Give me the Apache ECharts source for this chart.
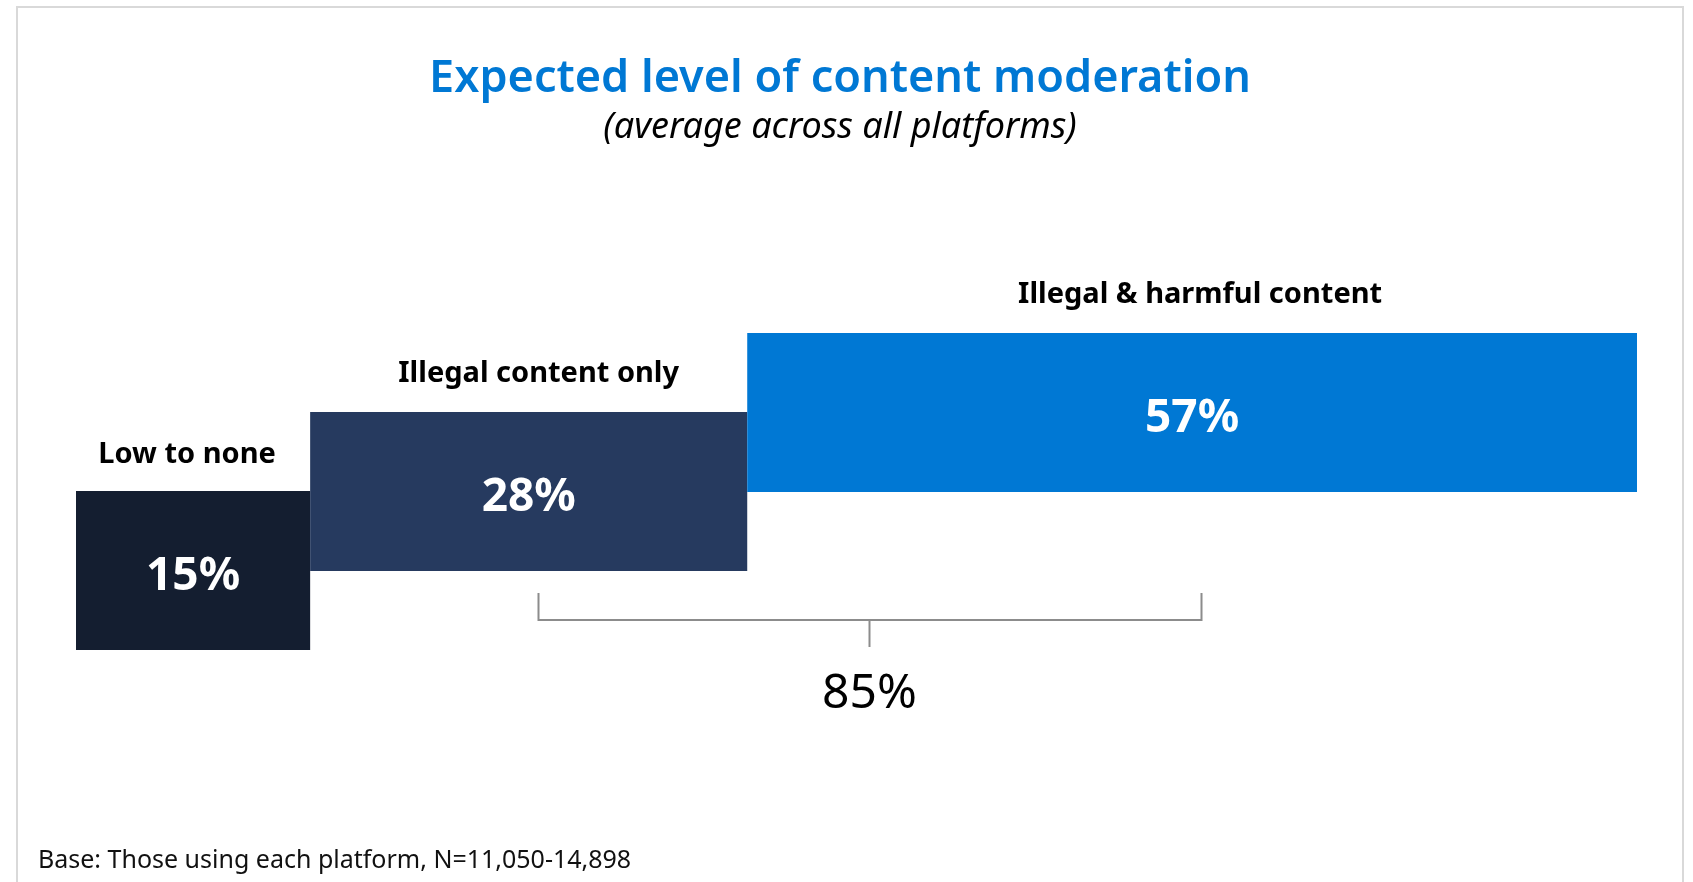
<!DOCTYPE html>
<html>
<head>
<meta charset="utf-8">
<title>Expected level of content moderation</title>
<script src="https://cdn.jsdelivr.net/npm/echarts@6/dist/echarts.min.js"></script>
<style>
  html, body { margin: 0; padding: 0; background: #ffffff; }
  #chart { width: 1693px; height: 882px; }
</style>
</head>
<body>
<div id="chart"></div>
<script>
// Moderation levels, lowest first (bottom step of the staircase)
const categories = ['Low to none', 'Illegal content only', 'Illegal & harmful content'];
const shares = [15, 28, 57];
const barColors = ['#141e30', '#263a5f', '#0078d4'];
// Levels grouped under the bracket (indices into categories)
const bracketGroup = [1, 2];

const titleText = 'Expected level of content moderation';
const subtitleText = '(average across all platforms)';
const footnoteText = 'Base: Those using each platform, N=11,050-14,898';

const FONT = '"Noto Sans", "Open Sans", sans-serif';
const BAR_THICKNESS = 159;
const BRACKET_SHIFT = 9;
// Horizontal nudge of each level name relative to its step centre (px)
const NAME_NUDGE = [-6, 10, 8];

// Running start of each step: each level begins where the previous one ends
const starts = [];
shares.reduce((acc, v, i) => { starts[i] = acc; return acc + v; }, 0);

const chart = echarts.init(document.getElementById('chart'), null, { renderer: 'canvas' });

const option = {
  animation: false,
  backgroundColor: '#ffffff',
  grid: { left: 76, right: 56, top: 373, bottom: 272, containLabel: false },
  xAxis: { type: 'value', min: 0, max: 100, show: false },
  yAxis: { type: 'category', data: categories, show: false },
  series: [
    {
      name: 'offset',
      type: 'bar',
      stack: 'steps',
      barWidth: BAR_THICKNESS,
      clip: false,
      silent: true,
      itemStyle: { color: 'transparent' },
      data: starts
    },
    {
      name: 'share',
      type: 'bar',
      stack: 'steps',
      barWidth: BAR_THICKNESS,
      clip: false,
      data: shares.map((v, i) => ({ value: v, itemStyle: { color: barColors[i] } })),
      label: {
        show: true,
        position: 'inside',
        formatter: p => p.value + '%',
        color: '#ffffff',
        fontFamily: FONT,
        fontWeight: 'bold',
        fontSize: 46,
        offset: [0, 6]
      }
    },
    {
      name: 'names',
      type: 'scatter',
      symbolSize: 0,
      clip: false,
      silent: true,
      itemStyle: { opacity: 1 },
      data: shares.map((v, i) => ({
        value: [starts[i] + v / 2, i],
        label: { offset: [NAME_NUDGE[i], i === 0 ? -116 : -118] }
      })),
      label: {
        show: true,
        position: 'inside',
        formatter: p => categories[p.dataIndex],
        color: '#000000',
        opacity: 1,
        fontFamily: FONT,
        fontWeight: 'bold',
        fontSize: 29
      }
    }
  ]
};
chart.setOption(option);

// Bracket spanning the grouped levels, with their combined share
function drawOverlay() {
  const first = bracketGroup[0];
  const last = bracketGroup[bracketGroup.length - 1];
  const pA = chart.convertToPixel({ seriesIndex: 1 }, [starts[first] + shares[first] / 2, first]);
  const pB = chart.convertToPixel({ seriesIndex: 1 }, [starts[last] + shares[last] / 2, last]);
  const pFirst = chart.convertToPixel({ seriesIndex: 1 }, [0, first]);
  const barBottom = pFirst[1] + BAR_THICKNESS / 2;
  const y0 = barBottom + 22;
  const y1 = barBottom + 49;
  const y2 = barBottom + 76;
  const xa = Math.round(pA[0] + BRACKET_SHIFT) + 0.5;
  const xb = Math.round(pB[0] + BRACKET_SHIFT) + 0.5;
  const xm = Math.round((pA[0] + pB[0]) / 2 + BRACKET_SHIFT) + 0.5;
  const total = bracketGroup.reduce((s, i) => s + shares[i], 0);
  const lineStyle = { stroke: '#8c8c8c', lineWidth: 2, fill: null };

  chart.setOption({
    graphic: [
      {
        type: 'rect',
        silent: true,
        shape: { x: 17, y: 7, width: 1666, height: 900 },
        style: { fill: null, stroke: '#d9d9d9', lineWidth: 2 }
      },
      {
        type: 'text',
        silent: true,
        x: 840, y: 79,
        style: {
          text: titleText, fill: '#0078d4', font: '600 45px ' + FONT,
          align: 'center', verticalAlign: 'middle'
        }
      },
      {
        type: 'text',
        silent: true,
        x: 840, y: 128,
        style: {
          text: subtitleText, fill: '#000000', font: 'italic 36px ' + FONT,
          align: 'center', verticalAlign: 'middle'
        }
      },
      {
        type: 'polyline',
        silent: true,
        shape: { points: [[xa, y0], [xa, y1], [xb, y1], [xb, y0]] },
        style: lineStyle
      },
      {
        type: 'line',
        silent: true,
        shape: { x1: xm, y1: y1, x2: xm, y2: y2 },
        style: lineStyle
      },
      {
        type: 'text',
        silent: true,
        x: xm, y: y2 + 47,
        style: {
          text: total + '%', fill: '#000000', font: '48px ' + FONT,
          align: 'center', verticalAlign: 'middle'
        }
      },
      {
        type: 'text',
        silent: true,
        x: 38, y: 861,
        style: {
          text: footnoteText, fill: '#111111', font: '25px ' + FONT,
          align: 'left', verticalAlign: 'middle'
        }
      }
    ]
  });
}
drawOverlay();
</script>
</body>
</html>
